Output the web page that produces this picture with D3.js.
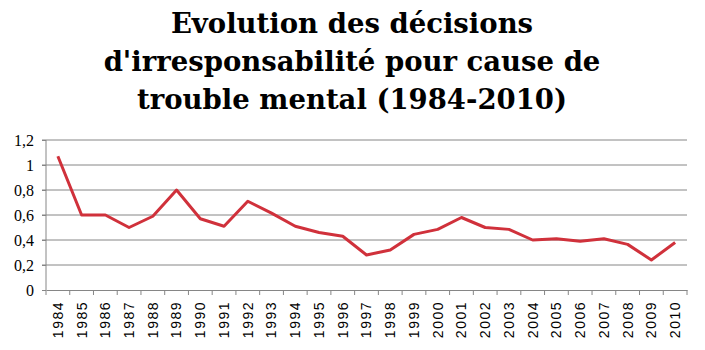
<!DOCTYPE html>
<html><head><meta charset="utf-8">
<script src="https://cdn.jsdelivr.net/npm/d3@7"></script>
<style>body{margin:0;background:#fff}svg{display:block}</style>
</head><body>
<svg id="c" width="705" height="350"></svg>
<script>
const years = ["1984","1985","1986","1987","1988","1989","1990","1991","1992","1993","1994","1995","1996","1997","1998","1999","2000","2001","2002","2003","2004","2005","2006","2007","2008","2009","2010"];
const values = [1.07,0.60,0.60,0.50,0.59,0.80,0.57,0.51,0.71,0.615,0.51,0.46,0.43,0.28,0.32,0.445,0.485,0.58,0.50,0.485,0.40,0.41,0.39,0.41,0.365,0.24,0.38];
const yTicks = [0,0.2,0.4,0.6,0.8,1,1.2];
const titleLines = ["Evolution des décisions","d'irresponsabilité pour cause de","trouble mental (1984-2010)"];

const svg = d3.select("#c");
const m = {left:46, right:687, top:140, bottom:290};
const x = d3.scaleBand().domain(years).range([m.left, m.right]);
const y = d3.scaleLinear().domain([0,1.2]).range([m.bottom, m.top]);

svg.append("g").selectAll("text").data(titleLines).join("text")
  .attr("x", 352).attr("y", (d,i)=>33 + i*38)
  .attr("text-anchor","middle")
  .attr("font-family","'DejaVu Serif', serif")
  .attr("font-weight","bold").attr("font-size", 27.5)
  .text(d=>d);

// gridlines
svg.append("g").selectAll("line").data(yTicks.filter(t=>t>0)).join("line")
  .attr("x1", m.left-4).attr("x2", m.right)
  .attr("y1", d=>y(d)).attr("y2", d=>y(d))
  .attr("stroke","#868686").attr("stroke-width",1);

// y axis
const ya = svg.append("g").attr("transform",`translate(${m.left},0)`)
  .call(d3.axisLeft(y).tickValues(yTicks).tickSize(4).tickFormat(d=>String(d).replace(".",",")));
ya.select(".domain").attr("stroke","#868686").attr("d",`M0,${m.top}V${m.bottom}`);
ya.selectAll(".tick line").attr("stroke","#868686");
ya.selectAll(".tick text").attr("font-family","'Liberation Serif', serif").attr("font-size",16).attr("fill","#000").attr("x",-12);

// x axis
const xa = svg.append("g").attr("transform",`translate(0,${m.bottom})`)
  .call(d3.axisBottom(x).tickSize(0));
xa.select(".domain").attr("stroke","#868686");
xa.selectAll(".tick text")
  .attr("font-family","'Liberation Sans', sans-serif").attr("font-size",14).attr("fill","#000")
  .attr("letter-spacing","1.5px")
  .attr("transform","rotate(-90)").attr("text-anchor","end")
  .attr("x",-11).attr("y",0).attr("dy","0.35em");
xa.append("g").selectAll("line").data(years.concat(["end"])).join("line")
  .attr("x1",(d,i)=>m.left + i*x.step()).attr("x2",(d,i)=>m.left + i*x.step())
  .attr("y1",0).attr("y2",5).attr("stroke","#868686");

// line
const line = d3.line().x((d,i)=>x(years[i])+x.bandwidth()/2).y(d=>y(d));
svg.append("path").datum(values).attr("d",line)
  .attr("fill","none").attr("stroke","#d0313b").attr("stroke-width",3).attr("stroke-linejoin","round");
</script>
</body></html>
